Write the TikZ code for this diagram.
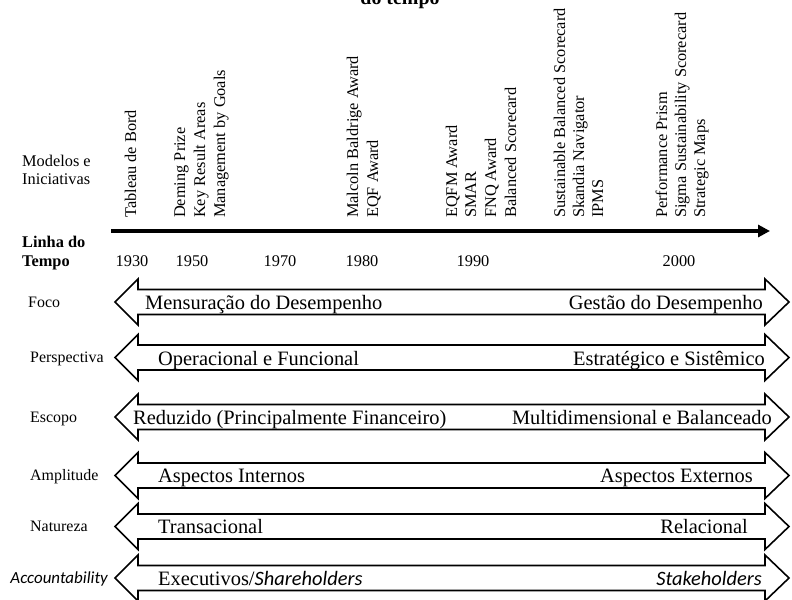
\documentclass[tikz,border=0pt]{standalone}
\usepackage{fontspec}
\setmainfont{Liberation Serif}
\newfontfamily\calibri{Carlito}
\usetikzlibrary{arrows.meta}

\begin{document}
\begin{tikzpicture}[x=1bp,y=-1bp,
  model/.style={rotate=90,anchor=base west,inner sep=0pt,font=\fontsize{16.4}{19.7}\selectfont},
  rowlabel/.style={anchor=base west,inner sep=0pt,font=\fontsize{16}{19}\selectfont},
  year/.style={anchor=base,inner sep=0pt,font=\fontsize{16.4}{19.7}\selectfont},
  headlabel/.style={anchor=base west,inner sep=0pt,font=\fontsize{16.4}{19.7}\selectfont},
  lefttext/.style={anchor=base west,inner sep=0pt,font=\fontsize{20.5}{24}\selectfont},
  righttext/.style={anchor=base east,inner sep=0pt,font=\fontsize{20.5}{24}\selectfont},
  band/.style={draw=black,line width=1.6bp,fill=white,line join=miter},
  dblarrow/.pic={
    \draw[band] (115,0) -- (138,-23) -- (138,-12.5) -- (765,-12.5) -- (765,-23)
      -- (789,0) -- (765,23) -- (765,12.5) -- (138,12.5) -- (138,23) -- cycle;
  },
]
\useasboundingbox (0,0) rectangle (792,600);

% title (second line, partly above the page)
\node[anchor=base,inner sep=0pt,font=\bfseries\fontsize{20}{24}\selectfont] (title) at (400,5) {do tempo};

% left-hand headings
\node[headlabel] (modelos1) at (22,167) {Modelos e};
\node[headlabel] (modelos2) at (22,185) {Iniciativas};
\node[headlabel,font=\bfseries\fontsize{16.4}{19.7}\selectfont] (linha1) at (22,247) {Linha do};
\node[headlabel,font=\bfseries\fontsize{16.4}{19.7}\selectfont] (linha2) at (22,266) {Tempo};

% models and initiatives, rotated
\node[model] (m1)  at (136,218) {Tableau de Bord};
\node[model] (m2)  at (185,218) {Deming Prize};
\node[model] (m3)  at (205,218) {Key Result Areas};
\node[model] (m4)  at (225,218) {Management by Goals};
\node[model] (m5)  at (358,218) {Malcoln Baldrige Award};
\node[model] (m6)  at (378,218) {EQF Award};
\node[model] (m7)  at (457,218) {EQFM Award};
\node[model] (m8)  at (476,218) {SMAR};
\node[model] (m9)  at (496,218) {FNQ Award};
\node[model] (m10) at (516,218) {Balanced Scorecard};
\node[model] (m11) at (565,218) {Sustainable Balanced Scorecard};
\node[model] (m12) at (584,218) {Skandia Navigator};
\node[model] (m13) at (603,218) {IPMS};
\node[model] (m14) at (667,218) {Performance Prism};
\node[model] (m15) at (686,218) {Sigma Sustainability Scorecard};
\node[model] (m16) at (705,218) {Strategic Maps};

% time line
\coordinate (t0) at (111,231);
\coordinate (t1) at (770,231);
\draw[line width=3.5bp,-{Triangle[length=12bp,width=12bp]}] (t0) -- (t1);

\node[year] (y1930) at (132,266) {1930};
\node[year] (y1950) at (192,266) {1950};
\node[year] (y1970) at (280,266) {1970};
\node[year] (y1980) at (362,266) {1980};
\node[year] (y1990) at (473,266) {1990};
\node[year] (y2000) at (679,266) {2000};

% bands
\pic at (0,302)   {dblarrow};
\pic at (0,357.5) {dblarrow};
\pic at (0,417)   {dblarrow};
\pic at (0,475.5) {dblarrow};
\pic at (0,526.5) {dblarrow};
\pic at (0,578)   {dblarrow};

% row labels
\node[rowlabel] (foco) at (28,307) {Foco};
\node[rowlabel] (persp) at (30,362.5) {Perspectiva};
\node[rowlabel] (escopo) at (30,422) {Escopo};
\node[rowlabel] (ampl) at (30,480.5) {Amplitude};
\node[rowlabel] (natur) at (30,531.5) {Natureza};
\node[anchor=base east,inner sep=0pt,font=\calibri\itshape\fontsize{17}{20}\selectfont] (acc) at (108,583) {Accountability};

% band texts
\node[lefttext] (foco-l) at (145,309) {Mensuração do Desempenho};
\node[righttext] (foco-r) at (763,309) {Gestão do Desempenho};
\node[lefttext] (persp-l) at (158,365.5) {Operacional e Funcional};
\node[righttext] (persp-r) at (765,365.5) {Estratégico e Sistêmico};
\node[lefttext] (escopo-l) at (133,424) {Reduzido (Principalmente Financeiro)};
\node[righttext] (escopo-r) at (772,424) {Multidimensional e Balanceado};
\node[lefttext] (ampl-l) at (158,482.5) {Aspectos Internos};
\node[righttext] (ampl-r) at (753,482.5) {Aspectos Externos};
\node[lefttext] (natur-l) at (158,533.5) {Transacional};
\node[righttext] (natur-r) at (748,533.5) {Relacional};
\node[lefttext] (acc-l) at (158,585) {Executivos/{\calibri\itshape Shareholders}};
\node[righttext,font=\calibri\itshape\fontsize{20.5}{24}\selectfont] (acc-r) at (762,585) {Stakeholders};
\end{tikzpicture}
\end{document}
